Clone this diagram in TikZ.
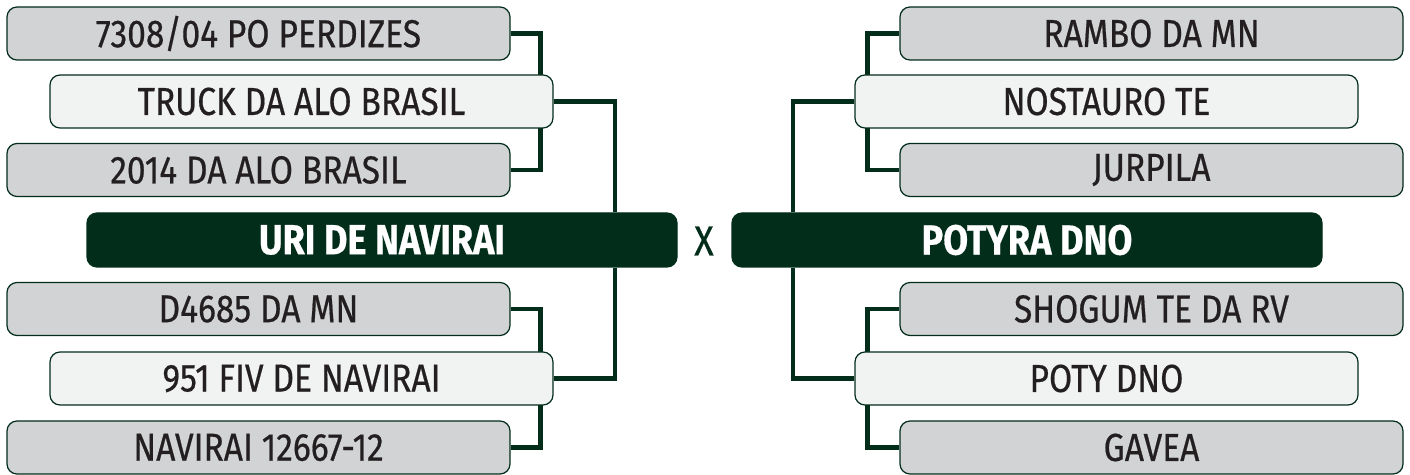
\documentclass[tikz,border=0pt]{standalone}
\usepackage{fontspec}
\setmainfont{Fira Sans}[FakeStretch=0.86, FakeBold=0.5]
\usetikzlibrary{backgrounds}
\definecolor{dgreen}{RGB}{3,45,27}
\definecolor{lgray}{RGB}{209,211,212}
\definecolor{pgray}{RGB}{241,242,242}
\definecolor{tblack}{RGB}{35,31,32}
\tikzset{
  team/.style = {draw=dgreen, line width=0.6pt, rounded corners=5pt, inner sep=0,
    minimum width=251.5pt, minimum height=26.5pt, text=tblack,
    font=\fontsize{19.5}{19.5}\selectfont},
  grey/.style = {team, fill=lgray},
  pale/.style = {team, fill=pgray},
  head/.style = {team, fill=dgreen, text=white, minimum width=295pt,
    minimum height=27pt, font=\bfseries\fontsize{21}{21}\selectfont},
  link/.style = {draw=dgreen, line width=2.4pt}
}

\begin{document}
\begin{tikzpicture}[x=0.5pt, y=-0.5pt]
    \useasboundingbox (0,0) rectangle (1410,475);

    % left side
    \node [grey] (b1) at (258.5, 33.5) {7308/04 PO PERDIZES};
    \node [pale] (b2) at (301.5, 101.5) {TRUCK DA ALO BRASIL};
    \node [grey] (b3) at (258.5, 170) {2014 DA ALO BRASIL};
    \node [head] (uri) at (382, 240) {URI DE NAVIRAI};
    \node [grey] (b4) at (258.5, 309) {D4685 DA MN};
    \node [pale] (b5) at (301.5, 378.5) {951 FIV DE NAVIRAI};
    \node [grey] (b6) at (258.5, 447.5) {NAVIRAI 12667-12};

    \node [text=dgreen, font=\fontsize{21}{21}\selectfont] (vs) at (704, 241) {X};

    % right side
    \node [grey] (r1) at (1151.5, 33.5) {RAMBO DA MN};
    \node [pale] (r2) at (1106.5, 101.5) {NOSTAURO TE};
    \node [grey] (r3) at (1151.5, 170) {JURPILA};
    \node [head] (pot) at (1027, 240) {POTYRA DNO};
    \node [grey] (r4) at (1151.5, 309) {SHOGUM TE DA RV};
    \node [pale] (r5) at (1106.5, 378.5) {POTY DNO};
    \node [grey] (r6) at (1151.5, 447.5) {GAVEA};

    \begin{pgfonlayer}{background}
      \draw [link] (b1.east) -- ++(30,0) |- (b3.east);
      \draw [link] (b2.east) -| ([xshift=116.5pt]uri.north);
      \draw [link] (b5.east) -| ([xshift=116.5pt]uri.south);
      \draw [link] (b4.east) -- ++(30,0) |- (b6.east);

      \draw [link] (r1.west) -- ++(-32,0) |- (r3.west);
      \draw [link] (r2.west) -| ([xshift=-117pt]pot.north);
      \draw [link] (r5.west) -| ([xshift=-117pt]pot.south);
      \draw [link] (r4.west) -- ++(-32,0) |- (r6.west);
    \end{pgfonlayer}
  \end{tikzpicture}
\end{document}
